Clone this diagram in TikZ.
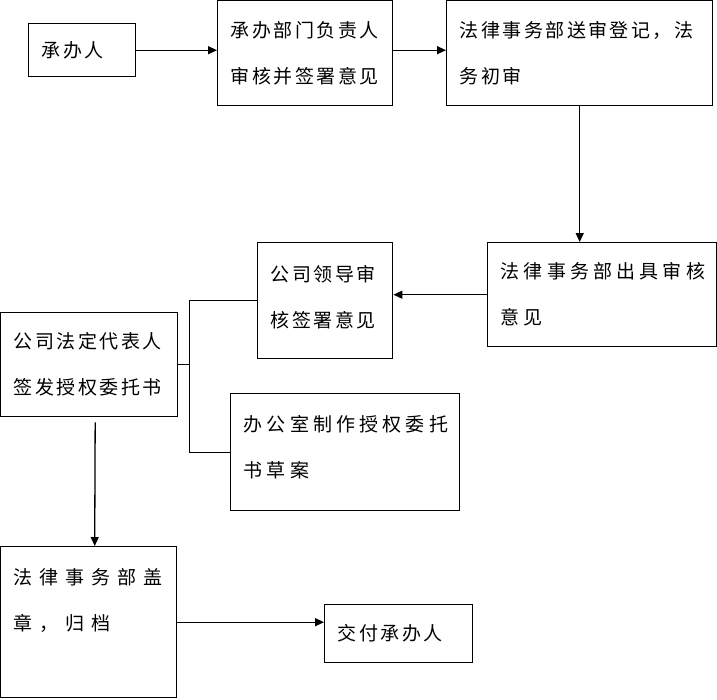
\documentclass[tikz,border=0pt]{standalone}
\usepackage{fontspec}
\setmainfont[LetterSpace=13]{Noto Sans CJK SC}
\newfontfamily\wider[LetterSpace=22]{Noto Sans CJK SC}
\newfontfamily\widest[LetterSpace=37]{Noto Sans CJK SC}
\usetikzlibrary{arrows.meta}

\begin{document}
\begin{tikzpicture}[
  x=1pt, y=-1pt,
  box/.style   = {draw, line width=1.4pt, anchor=north west, inner xsep=13pt,
                  inner ysep=0pt, align=left,
                  font=\fontsize{19pt}{46pt}\selectfont},
  flow/.style  = {line width=1.3pt, -{Triangle[length=9pt,width=8pt]}},
  fork/.style  = {line width=1pt},
]
  \useasboundingbox (0,0) rectangle (717,699);

  % boxes placed by their top left corner, in pixels of the scan
  \node[box, text width=81pt,  minimum height=53pt]  (clerk)  at (28,23)   {承办人};
  \node[box, text width=149pt, minimum height=105pt] (head)   at (217,0)   {承办部门负责人\\审核并签署意见};
  \node[box, text width=240pt, minimum height=105pt] (reg)    at (446,0)   {法律事务部送审登记，法\\务初审};
  \node[box, text width=203pt, minimum height=104pt] (legal)  at (487,242) {\wider 法律事务部出具审核\\意见};
  \node[box, text width=109pt, minimum height=116pt] (boss)   at (257,242) {公司领导审\\核签署意见\\[-38pt]~};
  \node[box, text width=151pt, minimum height=104pt] (rep)    at (0,312)   {公司法定代表人\\签发授权委托书};
  \node[box, text width=203pt, minimum height=117pt] (office) at (230,393) {\wider 办公室制作授权委托\\书草案\\[-34pt]~};
  \node[box, text width=150pt, minimum height=151pt] (seal)   at (0,546)   {\widest 法律事务部盖\\章，归档\\~};
  \node[box, text width=122pt, minimum height=58pt]  (give)   at (324,604) {交付承办人};

  % the bracket joining the two parallel steps
  \coordinate (join) at (189,362);

  \draw[flow] (clerk) -- (head.west |- clerk);
  \draw[flow] (head.east |- clerk) -- (reg.west |- clerk);
  \draw[flow] (reg.south) -- (reg.south |- legal.north);
  \draw[flow] (legal.west) -- (boss.east |- legal.west);
  \draw[fork] (boss.west) -- (join |- boss.west) -- (join |- office.west) -- (office.west);
  \draw[fork] (rep.east) -- (join |- rep.east);
  \draw[flow, shorten <=5pt] ([xshift=6pt]rep.south) -- ([xshift=6pt]seal.north);
  \draw[flow] (seal.east) -- (give.west |- seal.east);
\end{tikzpicture}
\end{document}
